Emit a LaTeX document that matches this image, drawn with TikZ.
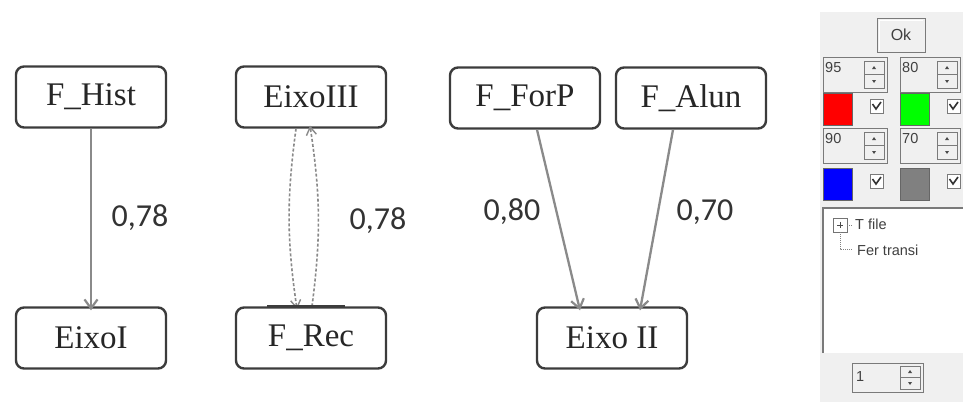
\documentclass[tikz,border=0pt]{standalone}
\usepackage{fontspec}
\setmainfont{Liberation Serif}
\newfontfamily\lblfont{Carlito}
\newfontfamily\uifont{Liberation Sans}
\usetikzlibrary{arrows.meta}
\definecolor{boxline}{HTML}{3C3C3C}
\definecolor{arrowgray}{HTML}{8A8A8A}
\definecolor{panelbg}{HTML}{F0F0F0}
\definecolor{uiline}{HTML}{7A7A7A}
\begin{document}
\begin{tikzpicture}[x=1pt,y=-1pt,
  factor/.style={draw=boxline,line width=2.4pt,rounded corners=8pt,fill=white,
    minimum width=150pt,minimum height=61pt,inner sep=0pt,
    font=\fontsize{33}{33}\selectfont,text=black!85},
  weight/.style={font=\lblfont\fontsize{32}{32}\selectfont,text=black!80},
  link/.style={draw=arrowgray,line width=2.3pt,-{Straight Barb[length=9pt,width=13pt,line width=2.2pt]}},
  dlink/.style={draw=arrowgray,line width=1.6pt,dash pattern=on 3pt off 2pt,
    -{Straight Barb[length=8pt,width=10pt,line width=1.4pt]}},
  field/.style={draw=uiline,line width=1pt,fill=panelbg},
  uitext/.style={font=\uifont\fontsize{14.5}{14.5}\selectfont,text=black!75,inner sep=0pt,anchor=west},
  swatch/.style={draw=black!60,line width=1pt},
  chk/.style={draw=uiline,line width=0.9pt,fill=white}]
\useasboundingbox (0,0) rectangle (963,402);
\fill[white] (0,0) rectangle (963,402);

% ---- factor boxes ----
\node[factor] (hist)  at (91,97)  {F\_Hist};
\node[factor] (eixoI) at (91,338) {EixoI};
\node[factor] (eixoIII) at (311,97) {EixoIII};
\node[factor] (rec)   at (311,338) {F\_Rec};
\node[factor] (forp)  at (525,98) {F\_ForP};
\node[factor] (alun)  at (691,98) {F\_Alun};
\node[factor] (eixoII) at (612,338) {Eixo II};

% ---- loadings ----
\node[weight] (w1) at (140,218) {0,78};
\node[weight] (w2) at (378,221) {0,78};
\node[weight] (w3) at (512,212) {0,80};
\node[weight] (w4) at (705,212) {0,70};

% ---- connectors ----
\draw[link] (hist.south) -- ([yshift=-4pt]eixoI.north);
\draw[link] ([xshift=12pt]forp.south) -- ([xshift=-32pt,yshift=-4pt]eixoII.north);
\draw[link] ([xshift=-18pt]alun.south) -- ([xshift=28pt,yshift=-4pt]eixoII.north);
\draw[dlink] ([xshift=-15pt]eixoIII.south) to[bend right=8] ([xshift=-14pt,yshift=-3pt]rec.north);
\draw[dlink] ([xshift=1pt]rec.north) to[bend right=8] ([xshift=-1pt,yshift=3pt]eixoIII.south);
\draw[boxline,line width=3.2pt] ([xshift=-44pt]rec.north) -- ([xshift=34pt]rec.north);

% ---- side control panel ----
\fill[panelbg] (820,12) rectangle (963,402);
% Ok button
\node[field,fill=panelbg,minimum width=48pt,minimum height=34pt,inner sep=0pt,
  font=\uifont\fontsize{16}{16}\selectfont,text=black!75] (ok) at (901,35) {Ok};
\draw[white,line width=1pt] (879,50) -- (879,20) -- (923,20);

% spin boxes: name, left, top, right, value
\foreach \nm/\xl/\yt/\xr/\val in {sa/823/57/887/95, sb/900/57/960/80, sc/823/128/887/90, sd/900/128/960/70}{
  \draw[field] (\xl,\yt) rectangle (\xr,\yt+35);
  \node[uitext] (\nm) at (\xl+2,\yt+11) {\val};
  \draw[uiline,line width=0.8pt] (\xr-23,\yt+4) rectangle (\xr-3,\yt+31);
  \draw[uiline,line width=0.8pt] (\xr-23,\yt+17.5) -- (\xr-3,\yt+17.5);
  \fill[black!70] (\xr-15,\yt+12) -- (\xr-11,\yt+12) -- (\xr-13,\yt+9) -- cycle;
  \fill[black!70] (\xr-15,\yt+23) -- (\xr-11,\yt+23) -- (\xr-13,\yt+26) -- cycle;
}

% colour swatches with check boxes
\foreach \col/\xl/\yt in {red/823/93, green/900/93, blue/823/168, gray/900/168}{
  \draw[swatch,fill=\col] (\xl,\yt) rectangle (\xl+29,\yt+32);
  \draw[chk] (\xl+47,\yt+6) rectangle (\xl+60,\yt+20);
  \draw[black!80,line width=1.6pt] (\xl+49.5,\yt+11) -- (\xl+53,\yt+16) -- (\xl+58,\yt+9);
}

% tree view
\fill[white] (823,208) rectangle (963,353);
\draw[uiline,line width=1.2pt] (823,353) -- (823,208) -- (963,208);
\draw[black!55,line width=0.8pt] (833,218) rectangle (847,232);
\draw[black!70,line width=1pt] (837,225) -- (843,225) (840,222) -- (840,228);
\draw[black!50,line width=0.7pt,dash pattern=on 1pt off 1pt] (847,225) -- (852,225);
\draw[black!50,line width=0.7pt,dash pattern=on 1pt off 1pt] (840,232) -- (840,249) -- (853,249);
\node[uitext] (t1) at (855,224) {T file};
\node[uitext] (t2) at (857,250) {Fer transi};

% page spin box
\draw[field] (852,363) rectangle (923,392);
\node[uitext] (pg) at (856,377) {1};
\draw[uiline,line width=0.8pt] (900,366) rectangle (920,389);
\draw[uiline,line width=0.8pt] (900,377.5) -- (920,377.5);
\fill[black!70] (908,373) -- (912,373) -- (910,370) -- cycle;
\fill[black!70] (908,382) -- (912,382) -- (910,385) -- cycle;
\end{tikzpicture}
\end{document}
